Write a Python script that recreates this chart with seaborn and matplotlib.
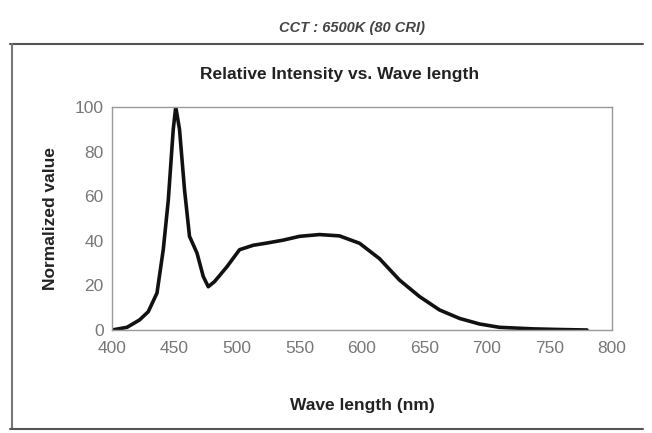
import seaborn as sns
import pandas as pd
import matplotlib.pyplot as plt

# spectrum
wavelength = [400, 412, 422, 429, 436, 441, 445, 449, 451, 454, 458, 462, 468, 473, 477,
              482, 492, 502, 513, 524, 537, 550, 566, 582, 598, 614, 630, 646, 662, 678,
              694, 710, 737, 760, 780]
intensity = [0, 1.2, 4.5, 8.2, 16.6, 36, 58, 90, 100, 90, 63, 42, 34.5, 24, 19.4,
             21.7, 28.4, 36, 38, 39, 40.3, 42, 42.8, 42.2, 38.9, 32, 22.4, 15, 9, 5.2,
             2.7, 1.2, 0.5, 0.2, 0]
x_ticks = [400, 450, 500, 550, 600, 650, 700, 750, 800]
y_ticks = [0, 20, 40, 60, 80, 100]

df = pd.DataFrame({"wave": wavelength, "value": intensity})

sns.set_style("white")
plt.rcParams["font.family"] = ["Liberation Sans", "DejaVu Sans"]

fig = plt.figure(figsize=(6.52, 4.33), dpi=100)
ax = fig.add_axes([112/652, 1 - 330/433, 500/652, 223/433])

# outer frame of the picture
fig.add_artist(plt.Line2D([10/652, 643/652], [1 - 44/433, 1 - 44/433], color="#555555", lw=1.5))
fig.add_artist(plt.Line2D([12/652, 12/652], [1 - 44/433, 1 - 429/433], color="#777777", lw=1.5))
fig.add_artist(plt.Line2D([10/652, 643/652], [1 - 429/433, 1 - 429/433], color="#555555", lw=1.5))

sns.lineplot(data=df, x="wave", y="value", color="#111111", linewidth=2.6, ax=ax)
for ln in ax.lines:
    ln.set_solid_joinstyle("round")
    ln.set_solid_capstyle("round")

ax.set_xlim(400, 800)
ax.set_ylim(0, 100)
ax.set_xticks(x_ticks)
ax.set_yticks(y_ticks)
ax.tick_params(direction="in", length=4, colors="#888888", labelcolor="#777777",
               labelsize=12.5, pad=6)
ax.tick_params(axis="x", pad=8)
for s in ax.spines.values():
    s.set_color("#999999")
    s.set_linewidth(1.0)

ax.set_xlabel("Wave length (nm)", fontsize=12.5, fontweight="bold", color="#222222", labelpad=30)
ax.set_ylabel("Normalized value", fontsize=12.5, fontweight="bold", color="#222222", labelpad=12)
fig.text(340/652, 1 - 74/433, "Relative Intensity vs. Wave length", fontsize=12.5,
         fontweight="bold", color="#222222", ha="center", va="center")
fig.text(352/652, 1 - 28/433, "CCT : 6500K (80 CRI)", fontsize=10.5, fontweight="bold",
         style="italic", color="#444444", ha="center", va="center")

plt.savefig("out.png", dpi=100)
plt.close()
